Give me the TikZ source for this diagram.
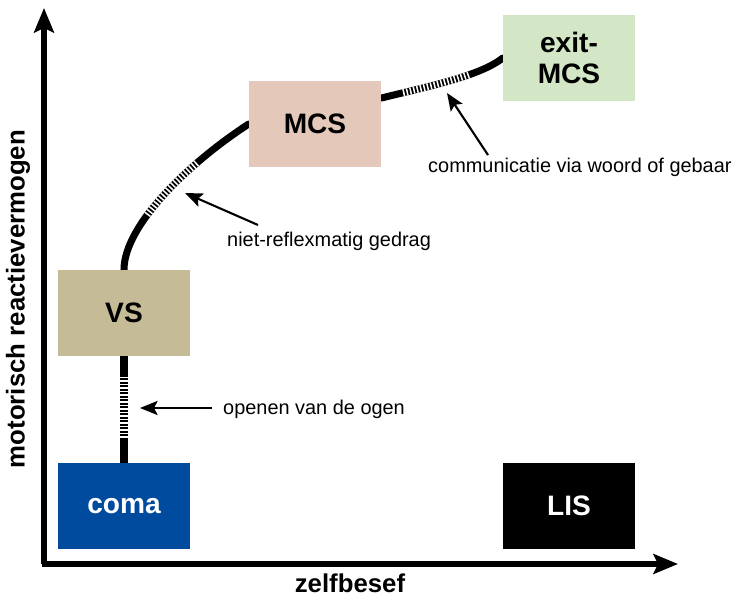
\documentclass[tikz,border=0pt]{standalone}
\usepackage{fontspec}
\setmainfont{Liberation Sans}
\usetikzlibrary{positioning, arrows.meta, decorations.markings, calc, backgrounds}

\definecolor{comablue}{HTML}{004B9E}
\definecolor{vstan}{HTML}{C5BB96}
\definecolor{mcspink}{HTML}{E4C8BA}
\definecolor{exitgreen}{HTML}{D3E7C6}

\tikzset{
  state box/.style={rectangle, inner sep=0pt, minimum width=3.96cm, minimum height=2.58cm,
    font=\fontsize{24}{27}\selectfont\bfseries, align=center},
  axis/.style={line width=4.3pt, -{Stealth[length=21pt, width=17pt, inset=4pt]}},
  path line/.style={line width=6pt, line cap=round},
  stripes/.style 2 args={postaction={decorate, decoration={markings,
    mark=between positions #1 and #2 step 3pt with {\fill[white] (-0.65pt,-3pt) rectangle (0.65pt,3pt);}}}},
  pointer/.style={line width=1.8pt, -{Stealth[length=15pt, width=12pt, inset=3pt]}},
  note/.style={anchor=west, inner sep=0pt, font=\fontsize{17}{20}\selectfont},
  axis label/.style={font=\fontsize{22}{26}\selectfont\bfseries}
}

\begin{document}
\begin{tikzpicture}[x=0.03cm, y=-0.03cm]
\useasboundingbox (0,0) rectangle (734,597);

% axes
\coordinate (origin) at (44,564);
\coordinate (ytop) at (44,8);
\coordinate (xend) at (678,564);
\draw[axis] (origin) -- (ytop);
\draw[axis] ([xshift=-2pt]origin) -- (xend);
\node[axis label, rotate=90] (ylabel) at (18,299) {motorisch reactievermogen};
\node[axis label] (xlabel) at (350,583) {zelfbesef};

% states
\node[state box, fill=comablue, text=white] (coma) at (124,506) {coma};
\node[state box, fill=black, text=white] (LIS) at (569,506) {LIS};
\node[state box, fill=vstan] (VS) at (124,313) {VS};
\node[state box, fill=mcspink] (MCS) at (315,124) {MCS};
\node[state box, fill=exitgreen] (exit) at (569,58) {exit-\\MCS};

% recovery path
\coordinate (mcsout) at ($(MCS.north east)!0.2!(MCS.south east)$);
\begin{pgfonlayer}{background}
\draw[path line, stripes={0.24}{0.82}] (coma.north) -- (VS.south);
\draw[path line, stripes={0.31}{0.68}] (VS.north) .. controls (124,225) and (190,162) .. (MCS.west);
\draw[path line, stripes={0.18}{0.70}] (mcsout) .. controls (430,86) and (480,76) .. (exit.west);
\end{pgfonlayer}

% notes
\node[note] (ogen) at (223,409) {openen van de ogen};
\node[note] (gedrag) at (227,241) {niet-reflexmatig gedrag};
\node[note] (gebaar) at (428,167) {communicatie via woord of gebaar};
\coordinate (ogen tail) at (212,408);
\coordinate (ogen tip) at (140,408);
\coordinate (gedrag tail) at (258,225);
\coordinate (gedrag tip) at (185,193);
\coordinate (gebaar tail) at (488,155);
\coordinate (gebaar tip) at (447,93);
\draw[pointer] (ogen tail) -- (ogen tip);
\draw[pointer] (gedrag tail) -- (gedrag tip);
\draw[pointer] (gebaar tail) -- (gebaar tip);

\end{tikzpicture}
\end{document}
